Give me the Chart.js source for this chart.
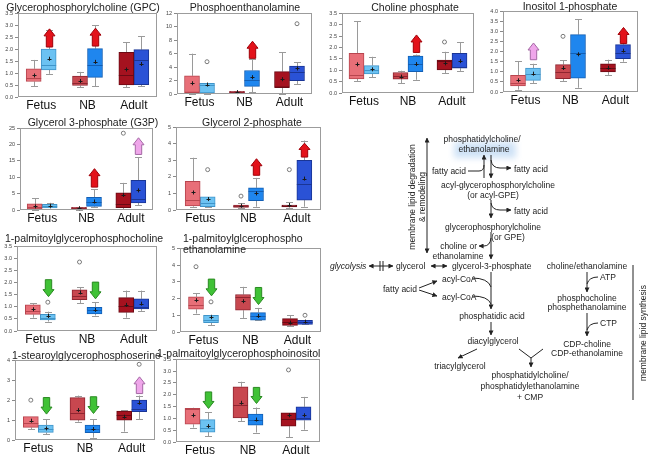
<!DOCTYPE html>
<html>
<head>
<meta charset="utf-8">
<script src="https://cdn.jsdelivr.net/npm/chart.js@4.4.0/dist/chart.umd.min.js"></script>
<style>
  html, body { margin: 0; padding: 0; background: #fff; }
  #page { position: relative; width: 651px; height: 454px; overflow: hidden; font-family: "Liberation Sans", Arial, sans-serif; }
  .panel { position: absolute; }
  .ttl { position: absolute; font-size: 10.5px; line-height: 11px; color: #222; white-space: nowrap; }
  #path { position: absolute; left: 0; top: 0; }
  #path text { font-family: "Liberation Sans", Arial, sans-serif; font-size: 8.5px; fill: #222; dominant-baseline: central; }
</style>
</head>
<body>
<div id="page"></div>
<script>
const groups = ['Fetus', 'NB', 'Adult'];

// box stats per group: [min, q1, median, q3, max, mean]
// outliers: [group, series(0 red / 1 blue), value]
// arrows: [group, series, tail value, tip value, kind]

const gpcTicks = ['0.0', '0.5', '1.0', '1.5', '2.0', '2.5', '3.0', '3.5'];
const gpcRed = [[0.45, 0.65, 0.8, 1.18, 1.55, 0.9], [0.42, 0.48, 0.58, 0.87, 1.05, 0.67], [0.4, 0.5, 0.9, 1.87, 2.28, 1.15]];
const gpcBlue = [[0.97, 1.13, 1.35, 2.0, 2.8, 1.6], [0.45, 0.82, 1.33, 2.02, 3.0, 1.47], [0.45, 0.52, 1.53, 1.98, 2.55, 1.38]];
const gpcOut = [];
const gpcArrows = [[0, 1, 2.09, 2.85, 'up'], [1, 1, 2.13, 2.88, 'up']];

const peTicks = ['0', '2', '4', '6', '8', '10', '12'];
const peRed = [[0, 0.25, 0.25, 2.7, 6.0, 1.6], [0.1, 0.18, 0.3, 0.4, 0.45, 0.28], [0.05, 1.03, 1.03, 3.33, 6.2, 2.2]];
const peBlue = [[0.05, 0.15, 1.4, 1.6, 1.65, 1.4], [0.25, 1.13, 2.1, 3.5, 5.15, 2.5], [1.5, 2.0, 3.33, 4.17, 4.75, 3.8]];
const peOut = [[0, 1, 4.8], [2, 1, 10.45]];
const peArrows = [[1, 1, 5.3, 7.85, 'up']];

const cpTicks = ['0.0', '0.5', '1.0', '1.5', '2.0', '2.5', '3.0', '3.5'];
const cpRed = [[0.53, 0.62, 0.8, 1.74, 3.14, 1.26], [0.43, 0.61, 0.75, 0.9, 0.98, 0.72], [0.87, 1.01, 1.42, 1.45, 1.81, 1.3]];
const cpBlue = [[0.69, 0.84, 1.01, 1.2, 1.59, 1.04], [0.58, 0.94, 1.27, 1.62, 1.69, 1.27], [0.97, 1.09, 1.15, 1.74, 2.22, 1.4]];
const cpOut = [[2, 0, 2.24]];
const cpArrows = [[1, 1, 1.78, 2.55, 'up']];

const ipTicks = ['0.0', '0.5', '1.0', '1.5', '2.0', '2.5', '3.0', '3.5', '4.0'];
const ipRed = [[0.12, 0.3, 0.45, 0.83, 1.52, 0.58], [0.55, 0.66, 0.99, 1.36, 1.57, 1.19], [0.85, 1.0, 1.2, 1.4, 1.6, 1.2]];
const ipBlue = [[0.45, 0.58, 0.91, 1.19, 1.4, 0.91], [0.21, 0.69, 1.95, 2.84, 3.6, 1.87], [1.5, 1.65, 1.95, 2.35, 2.55, 2.05]];
const ipOut = [[1, 0, 2.76]];
const ipArrows = [[0, 1, 1.6, 2.43, 'upTrend'], [2, 1, 2.4, 3.2, 'up']];

const g3pTicks = ['0', '5', '10', '15', '20', '25'];
const g3pRed = [[0.1, 0.3, 1.0, 1.85, 3.6, 1.1], [0.1, 0.3, 0.5, 0.8, 0.9, 0.55], [0.3, 0.7, 1.85, 5.25, 8.3, 4.6]];
const g3pBlue = [[0.4, 0.6, 1.34, 1.75, 2.2, 1.3], [0.8, 1.1, 2.6, 3.9, 6.3, 2.6], [1.55, 2.15, 3.4, 9.05, 16.15, 6.0]];
const g3pOut = [[2, 0, 23.5]];
const g3pArrows = [[1, 1, 7.0, 12.65, 'up'], [2, 1, 17.0, 22.1, 'upTrend']];

const g2pTicks = ['0', '1', '2', '3', '4', '5'];
const g2pRed = [[0.2, 0.24, 0.6, 1.74, 3.16, 1.06], [0.14, 0.16, 0.24, 0.3, 0.4, 0.26], [0.14, 0.18, 0.24, 0.3, 0.46, 0.3]];
const g2pBlue = [[0.16, 0.2, 0.44, 0.8, 0.8, 0.66], [0.2, 0.56, 1.14, 1.34, 1.94, 1.0], [0.2, 0.6, 1.6, 3.0, 4.2, 1.9]];
const g2pOut = [[0, 1, 2.44], [1, 0, 0.84], [2, 0, 2.44]];
const g2pArrows = [[1, 1, 2.1, 3.1, 'up'], [2, 1, 3.2, 4.04, 'up']];

const lpcTicks = ['0.0', '0.5', '1.0', '1.5', '2.0', '2.5', '3.0', '3.5'];
const lpcRed = [[0.55, 0.69, 0.83, 1.08, 1.15, 0.9], [1.15, 1.29, 1.45, 1.7, 1.8, 1.59], [0.55, 0.77, 1.04, 1.38, 1.67, 1.08]];
const lpcBlue = [[0.39, 0.46, 0.55, 0.69, 0.8, 0.62], [0.64, 0.71, 0.87, 0.98, 1.19, 0.87], [0.83, 0.91, 1.0, 1.33, 1.67, 1.13]];
const lpcOut = [[0, 1, 1.19], [1, 0, 2.85]];
const lpcArrows = [[0, 1, 2.12, 1.42, 'down'], [1, 1, 2.02, 1.33, 'down']];

const lpeTicks = ['0', '1', '2', '3', '4', '5'];
const lpeRed = [[1.1, 1.36, 1.6, 2.1, 2.3, 1.9], [0.84, 1.3, 2.1, 2.24, 2.7, 1.84], [0.34, 0.4, 0.6, 0.8, 1.0, 0.56]];
const lpeBlue = [[0.4, 0.56, 0.7, 1.0, 1.04, 0.88], [0.7, 0.7, 0.96, 1.16, 1.44, 0.96], [0.46, 0.46, 0.6, 0.7, 0.7, 0.62]];
const lpeOut = [[0, 0, 3.9], [0, 1, 1.8], [2, 1, 1.0]];
const lpeArrows = [[0, 1, 3.16, 2.16, 'down'], [1, 1, 2.66, 1.64, 'down']];

const lpsTicks = ['0', '1', '2', '3', '4'];
const lpsRed = [[0.53, 0.63, 0.83, 1.17, 1.17, 0.97], [0.92, 1.0, 1.33, 2.13, 2.23, 1.5], [0.42, 1.0, 1.25, 1.45, 1.5, 1.17]];
const lpsBlue = [[0.28, 0.38, 0.53, 0.75, 1.03, 0.58], [0.12, 0.37, 0.53, 0.75, 1.05, 0.55], [1.05, 1.42, 1.58, 2.0, 2.23, 1.87]];
const lpsOut = [[0, 0, 2.0], [2, 1, 3.8]];
const lpsArrows = [[0, 1, 2.13, 1.3, 'down'], [1, 1, 2.17, 1.33, 'down'], [2, 1, 2.33, 3.17, 'upTrend']];

const lpiTicks = ['0.0', '0.5', '1.0', '1.5', '2.0', '2.5', '3.0', '3.5'];
const lpiRed = [[0.61, 0.75, 1.39, 1.42, 1.45, 1.13], [0.89, 1.02, 1.56, 2.34, 2.55, 1.66], [0.21, 0.67, 0.99, 1.23, 1.23, 1.13]];
const lpiBlue = [[0.25, 0.42, 0.61, 0.95, 1.27, 0.67], [0.4, 0.71, 0.92, 1.18, 1.46, 0.95], [0.52, 0.92, 1.02, 1.49, 1.91, 1.13]];
const lpiOut = [[2, 0, 3.05]];
const lpiArrows = [[0, 1, 2.12, 1.42, 'down'], [1, 1, 2.31, 1.63, 'down']];

// colours
const redFill = ['#e86f78', '#c8474f', '#a5121f'];
const redEdge = ['#b8454e', '#8f2530', '#6b0a14'];
const blueFill = ['#6cc2f2', '#1f86ee', '#2a52d6'];
const blueEdge = ['#3f94c9', '#135fb4', '#1a3595'];
const arrowFill = { up: '#e3121a', upTrend: '#efa6ea', down: '#40c236' };
const arrowEdge = { up: '#a00008', upTrend: '#a468a4', down: '#2a8a22' };

const panels = [
  { title: ['Glycerophosphorylcholine (GPC)'], frame: [18, 13, 157, 97], tx: 83, ty: 7, center: true, red: gpcRed, blue: gpcBlue, out: gpcOut, arrows: gpcArrows, ticks: gpcTicks },
  { title: ['Phosphoenthanolamine'], frame: [177, 13, 312, 94], tx: 245, ty: 7, center: true, red: peRed, blue: peBlue, out: peOut, arrows: peArrows, ticks: peTicks },
  { title: ['Choline phosphate'], frame: [342, 13, 474, 93], tx: 415, ty: 7, center: true, red: cpRed, blue: cpBlue, out: cpOut, arrows: cpArrows, ticks: cpTicks },
  { title: ['Inositol 1-phosphate'], frame: [503, 11, 638, 92], tx: 570, ty: 6, center: true, red: ipRed, blue: ipBlue, out: ipOut, arrows: ipArrows, ticks: ipTicks },
  { title: ['Glycerol 3-phosphate (G3P)'], frame: [20, 128, 153, 210], tx: 93, ty: 122, center: true, red: g3pRed, blue: g3pBlue, out: g3pOut, arrows: g3pArrows, ticks: g3pTicks },
  { title: ['Glycerol 2-phosphate'], frame: [176, 127, 321, 210], tx: 252, ty: 122, center: true, red: g2pRed, blue: g2pBlue, out: g2pOut, arrows: g2pArrows, ticks: g2pTicks },
  { title: ['1-palmitoylglycerophosphocholine'], frame: [17, 246, 157, 331], tx: 5, ty: 238, center: false, red: lpcRed, blue: lpcBlue, out: lpcOut, arrows: lpcArrows, ticks: lpcTicks },
  { title: ['1-palmitoylglcerophospho', 'ethanolamine'], frame: [180, 248, 321, 332], tx: 183, ty: 238, center: false, red: lpeRed, blue: lpeBlue, out: lpeOut, arrows: lpeArrows, ticks: lpeTicks },
  { title: ['1-stearoylglycerophosphoserine'], frame: [15, 360, 155, 440], tx: 12, ty: 355, center: false, red: lpsRed, blue: lpsBlue, out: lpsOut, arrows: lpsArrows, ticks: lpsTicks },
  { title: ['1-palmaitoylglycerophosphoinositol'], frame: [176, 359, 320, 442], tx: 157, ty: 353, center: false, red: lpiRed, blue: lpiBlue, out: lpiOut, arrows: lpiArrows, ticks: lpiTicks }
];

const page = document.getElementById('page');

function drawArrow(ctx, x, yTail, yTip, fill, edge) {
  const dir = yTip < yTail ? -1 : 1;
  const hw = 5.5, sw = 3.2;
  const hl = Math.min(7, Math.abs(yTip - yTail) * 0.45);
  const yNeck = yTip - dir * hl;
  ctx.beginPath();
  ctx.moveTo(x - sw, yTail);
  ctx.lineTo(x - sw, yNeck);
  ctx.lineTo(x - hw, yNeck);
  ctx.lineTo(x, yTip);
  ctx.lineTo(x + hw, yNeck);
  ctx.lineTo(x + sw, yNeck);
  ctx.lineTo(x + sw, yTail);
  ctx.closePath();
  ctx.fillStyle = fill;
  ctx.fill();
  ctx.lineWidth = 1;
  ctx.strokeStyle = edge;
  ctx.stroke();
}

// whiskers, medians, means, outliers, arrows and the frame
const boxPlugin = {
  id: 'boxes',
  beforeDatasetsDraw(chart) {
    const ctx = chart.ctx, ys = chart.scales.y;
    ctx.save();
    ctx.strokeStyle = '#9a9a9a';
    ctx.lineWidth = 1;
    chart.data.datasets.forEach((ds, di) => {
      chart.getDatasetMeta(di).data.forEach((bar, i) => {
        const s = ds.stats[i];
        const x = Math.round(bar.x) + 0.5;
        const cap = 3.5;
        ctx.beginPath();
        ctx.moveTo(x, ys.getPixelForValue(s[0]));
        ctx.lineTo(x, ys.getPixelForValue(s[1]));
        ctx.moveTo(x, ys.getPixelForValue(s[3]));
        ctx.lineTo(x, ys.getPixelForValue(s[4]));
        const y0 = Math.round(ys.getPixelForValue(s[0])) + 0.5;
        const y4 = Math.round(ys.getPixelForValue(s[4])) + 0.5;
        ctx.moveTo(x - cap, y0); ctx.lineTo(x + cap, y0);
        ctx.moveTo(x - cap, y4); ctx.lineTo(x + cap, y4);
        ctx.stroke();
      });
    });
    ctx.restore();
  },
  afterDatasetsDraw(chart, args, opts) {
    const ctx = chart.ctx, ys = chart.scales.y, ca = chart.chartArea;
    ctx.save();
    chart.data.datasets.forEach((ds, di) => {
      chart.getDatasetMeta(di).data.forEach((bar, i) => {
        const s = ds.stats[i];
        const half = bar.width / 2;
        const ym = Math.round(ys.getPixelForValue(s[2])) + 0.5;
        ctx.strokeStyle = ds.medianColor[i];
        ctx.lineWidth = 1;
        ctx.beginPath();
        ctx.moveTo(bar.x - half, ym);
        ctx.lineTo(bar.x + half, ym);
        ctx.stroke();
        const yMean = ys.getPixelForValue(s[5]);
        const x = Math.round(bar.x) + 0.5;
        ctx.strokeStyle = '#1a1a1a';
        ctx.beginPath();
        ctx.moveTo(x - 2, Math.round(yMean) + 0.5);
        ctx.lineTo(x + 2, Math.round(yMean) + 0.5);
        ctx.moveTo(x, yMean - 2);
        ctx.lineTo(x, yMean + 2);
        ctx.stroke();
      });
    });
    const metas = [chart.getDatasetMeta(0), chart.getDatasetMeta(1)];
    ctx.strokeStyle = '#7a7a7a';
    opts.out.forEach(o => {
      const bar = metas[o[1]].data[o[0]];
      ctx.beginPath();
      ctx.arc(bar.x, ys.getPixelForValue(o[2]), 2, 0, Math.PI * 2);
      ctx.stroke();
    });
    opts.arrows.forEach(a => {
      const bar = metas[a[1]].data[a[0]];
      drawArrow(ctx, Math.round(bar.x) + 0.5, ys.getPixelForValue(a[2]), ys.getPixelForValue(a[3]), arrowFill[a[4]], arrowEdge[a[4]]);
    });
    ctx.strokeStyle = '#9c9c9c';
    ctx.lineWidth = 1;
    ctx.strokeRect(Math.round(ca.left) + 0.5, Math.round(ca.top) + 0.5, Math.round(ca.right - ca.left) - 1, Math.round(ca.bottom - ca.top) - 1);
    ctx.restore();
  }
};

function makePanel(p) {
  const [l, t, r, b] = p.frame;
  const yw = 18, xh = 18, pt = 5, pr = 3;
  const w = r - l + yw + pr, h = b - t + pt + xh;

  const ttl = document.createElement('div');
  ttl.className = 'ttl';
  ttl.innerHTML = p.title.join('<br>');
  ttl.style.top = (p.ty - 5.5) + 'px';
  if (p.center) {
    ttl.style.left = (p.tx - 100) + 'px';
    ttl.style.width = '200px';
    ttl.style.textAlign = 'center';
  } else {
    ttl.style.left = p.tx + 'px';
  }

  const cv = document.createElement('canvas');
  cv.className = 'panel';
  cv.width = w;
  cv.height = h;
  cv.style.left = (l - yw) + 'px';
  cv.style.top = (t - pt) + 'px';
  cv.style.width = w + 'px';
  cv.style.height = h + 'px';
  page.appendChild(cv);
  page.appendChild(ttl);

  new Chart(cv, {
    type: 'bar',
    data: {
      labels: groups,
      datasets: [
        { data: p.red.map(s => [s[1], s[3]]), stats: p.red, backgroundColor: redFill, borderColor: redEdge, medianColor: redEdge, borderWidth: 1, borderSkipped: false },
        { data: p.blue.map(s => [s[1], s[3]]), stats: p.blue, backgroundColor: blueFill, borderColor: blueEdge, medianColor: blueEdge, borderWidth: 1, borderSkipped: false }
      ]
    },
    options: {
      responsive: false,
      animation: false,
      devicePixelRatio: 1,
      layout: { padding: { top: pt, right: pr, left: 0, bottom: 0 } },
      datasets: { bar: { barThickness: 15, categoryPercentage: 0.76 } },
      plugins: {
        legend: { display: false },
        tooltip: { enabled: false },
        boxes: { out: p.out, arrows: p.arrows }
      },
      scales: {
        x: {
          grid: { display: false, drawTicks: false },
          border: { display: false },
          ticks: { padding: 1, color: '#111', maxRotation: 0, autoSkip: false, font: { family: 'Liberation Sans', size: 12 } },
          afterFit: s => { s.height = xh; }
        },
        y: {
          min: 0,
          max: +p.ticks[p.ticks.length - 1],
          grid: { drawOnChartArea: false, tickLength: 3, color: '#8a8a8a' },
          border: { display: false },
          ticks: { padding: 2, color: '#444', autoSkip: false, font: { family: 'Liberation Sans', size: 5.5 }, callback: (v, i) => p.ticks[i] },
          afterBuildTicks: s => { s.ticks = p.ticks.map(v => ({ value: +v })); },
          afterFit: s => { s.width = yw; }
        }
      }
    },
    plugins: [boxPlugin]
  });
}

panels.forEach(makePanel);

// pathway scheme
page.insertAdjacentHTML('beforeend', `
<svg id="path" width="651" height="454" viewBox="0 0 651 454">
  <defs>
    <marker id="ah" viewBox="0 0 6 6" refX="5.5" refY="3" markerWidth="5" markerHeight="5" orient="auto-start-reverse">
      <path d="M0,0 L6,3 L0,6 z" fill="#222"/>
    </marker>
    <filter id="glow" x="-30%" y="-60%" width="160%" height="220%"><feGaussianBlur stdDeviation="3"/></filter>
  </defs>
  <g stroke="#222" stroke-width="1" fill="none">
    <rect x="454" y="142" width="62" height="16" fill="#cfe2f6" stroke="none" filter="url(#glow)"/>
    <line x1="427" y1="138" x2="427" y2="253" marker-start="url(#ah)" marker-end="url(#ah)"/>
    <path d="M468,171 L479,171 Q484,171 484,165"/>
    <line x1="484" y1="178" x2="484" y2="155" marker-end="url(#ah)"/>
    <line x1="491" y1="155" x2="491" y2="178" marker-end="url(#ah)"/>
    <path d="M491,160 Q492,168 500,168 L511,168" marker-end="url(#ah)"/>
    <line x1="491" y1="200" x2="491" y2="218" marker-end="url(#ah)"/>
    <path d="M491,203 Q492,210 500,210 L511,210" marker-end="url(#ah)"/>
    <line x1="491" y1="232" x2="491" y2="259" marker-end="url(#ah)"/>
    <path d="M491,238 Q490,246 484,246 L479,246" marker-end="url(#ah)"/>
    <line x1="369" y1="266" x2="393" y2="266" marker-start="url(#ah)" marker-end="url(#ah)"/>
    <line x1="380" y1="261" x2="380" y2="271"/>
    <line x1="383" y1="261" x2="383" y2="271"/>
    <line x1="431" y1="266" x2="447" y2="266" marker-start="url(#ah)" marker-end="url(#ah)"/>
    <line x1="419" y1="288" x2="437" y2="281" marker-end="url(#ah)"/>
    <line x1="419" y1="290" x2="437" y2="296" marker-end="url(#ah)"/>
    <line x1="491" y1="272" x2="491" y2="309" marker-end="url(#ah)"/>
    <path d="M472,278 Q488,278 491,287"/>
    <path d="M472,296 Q488,296 491,304"/>
    <line x1="491" y1="322" x2="491" y2="335" marker-end="url(#ah)"/>
    <line x1="477" y1="349" x2="458" y2="358" marker-end="url(#ah)"/>
    <path d="M519,349 L531,358 L543,349"/>
    <line x1="531" y1="358" x2="531" y2="367" marker-end="url(#ah)"/>
    <line x1="587" y1="272" x2="587" y2="292" marker-end="url(#ah)"/>
    <path d="M598,277 Q589,277 587,284"/>
    <line x1="587" y1="313" x2="587" y2="336" marker-end="url(#ah)"/>
    <path d="M598,323 Q589,323 587,330"/>
    <line x1="633" y1="265" x2="633" y2="400"/>
  </g>
  <text x="482" y="139" text-anchor="middle">phosphatidylcholine/</text>
  <text x="484" y="149" text-anchor="middle">ethanolamine</text>
  <text transform="translate(412,197) rotate(-90)" text-anchor="middle">membrane lipid degradation</text>
  <text transform="translate(422,197) rotate(-90)" text-anchor="middle">&amp; remodeling</text>
  <text x="466" y="171" text-anchor="end">fatty acid</text>
  <text x="514" y="169">fatty acid</text>
  <text x="498" y="185" text-anchor="middle">acyl-glycerophosphorylcholine</text>
  <text x="493" y="195" text-anchor="middle">(or acyl-GPE)</text>
  <text x="514" y="211">fatty acid</text>
  <text x="493" y="227" text-anchor="middle">glycerophosphorylcholine</text>
  <text x="508" y="237" text-anchor="middle">(or GPE)</text>
  <text x="477" y="246" text-anchor="end">choline or</text>
  <text x="458" y="256" text-anchor="middle">ethanolamine</text>
  <text x="330" y="266" font-style="italic">glycolysis</text>
  <text x="396" y="266">glycerol</text>
  <text x="452" y="266">glycerol-3-phosphate</text>
  <text x="587" y="266" text-anchor="middle">choline/ethanolamine</text>
  <text x="417" y="289" text-anchor="end">fatty acid</text>
  <text x="442" y="279">acyl-CoA</text>
  <text x="442" y="297">acyl-CoA</text>
  <text x="492" y="316" text-anchor="middle">phosphatidic acid</text>
  <text x="493" y="341" text-anchor="middle">diacylglycerol</text>
  <text x="460" y="366" text-anchor="middle">triacylglycerol</text>
  <text x="530" y="375" text-anchor="middle">phosphatidylcholine/</text>
  <text x="530" y="386" text-anchor="middle">phosphatidylethanolamine</text>
  <text x="530" y="397" text-anchor="middle">+ CMP</text>
  <text x="600" y="277">ATP</text>
  <text x="587" y="298" text-anchor="middle">phosphocholine</text>
  <text x="587" y="307" text-anchor="middle">phosphethanolamine</text>
  <text x="600" y="323">CTP</text>
  <text x="587" y="344" text-anchor="middle">CDP-choline</text>
  <text x="587" y="353" text-anchor="middle">CDP-ethanolamine</text>
  <text transform="translate(643,333) rotate(-90)" text-anchor="middle">membrane lipid synthesis</text>
</svg>`);
</script>
</body>
</html>
